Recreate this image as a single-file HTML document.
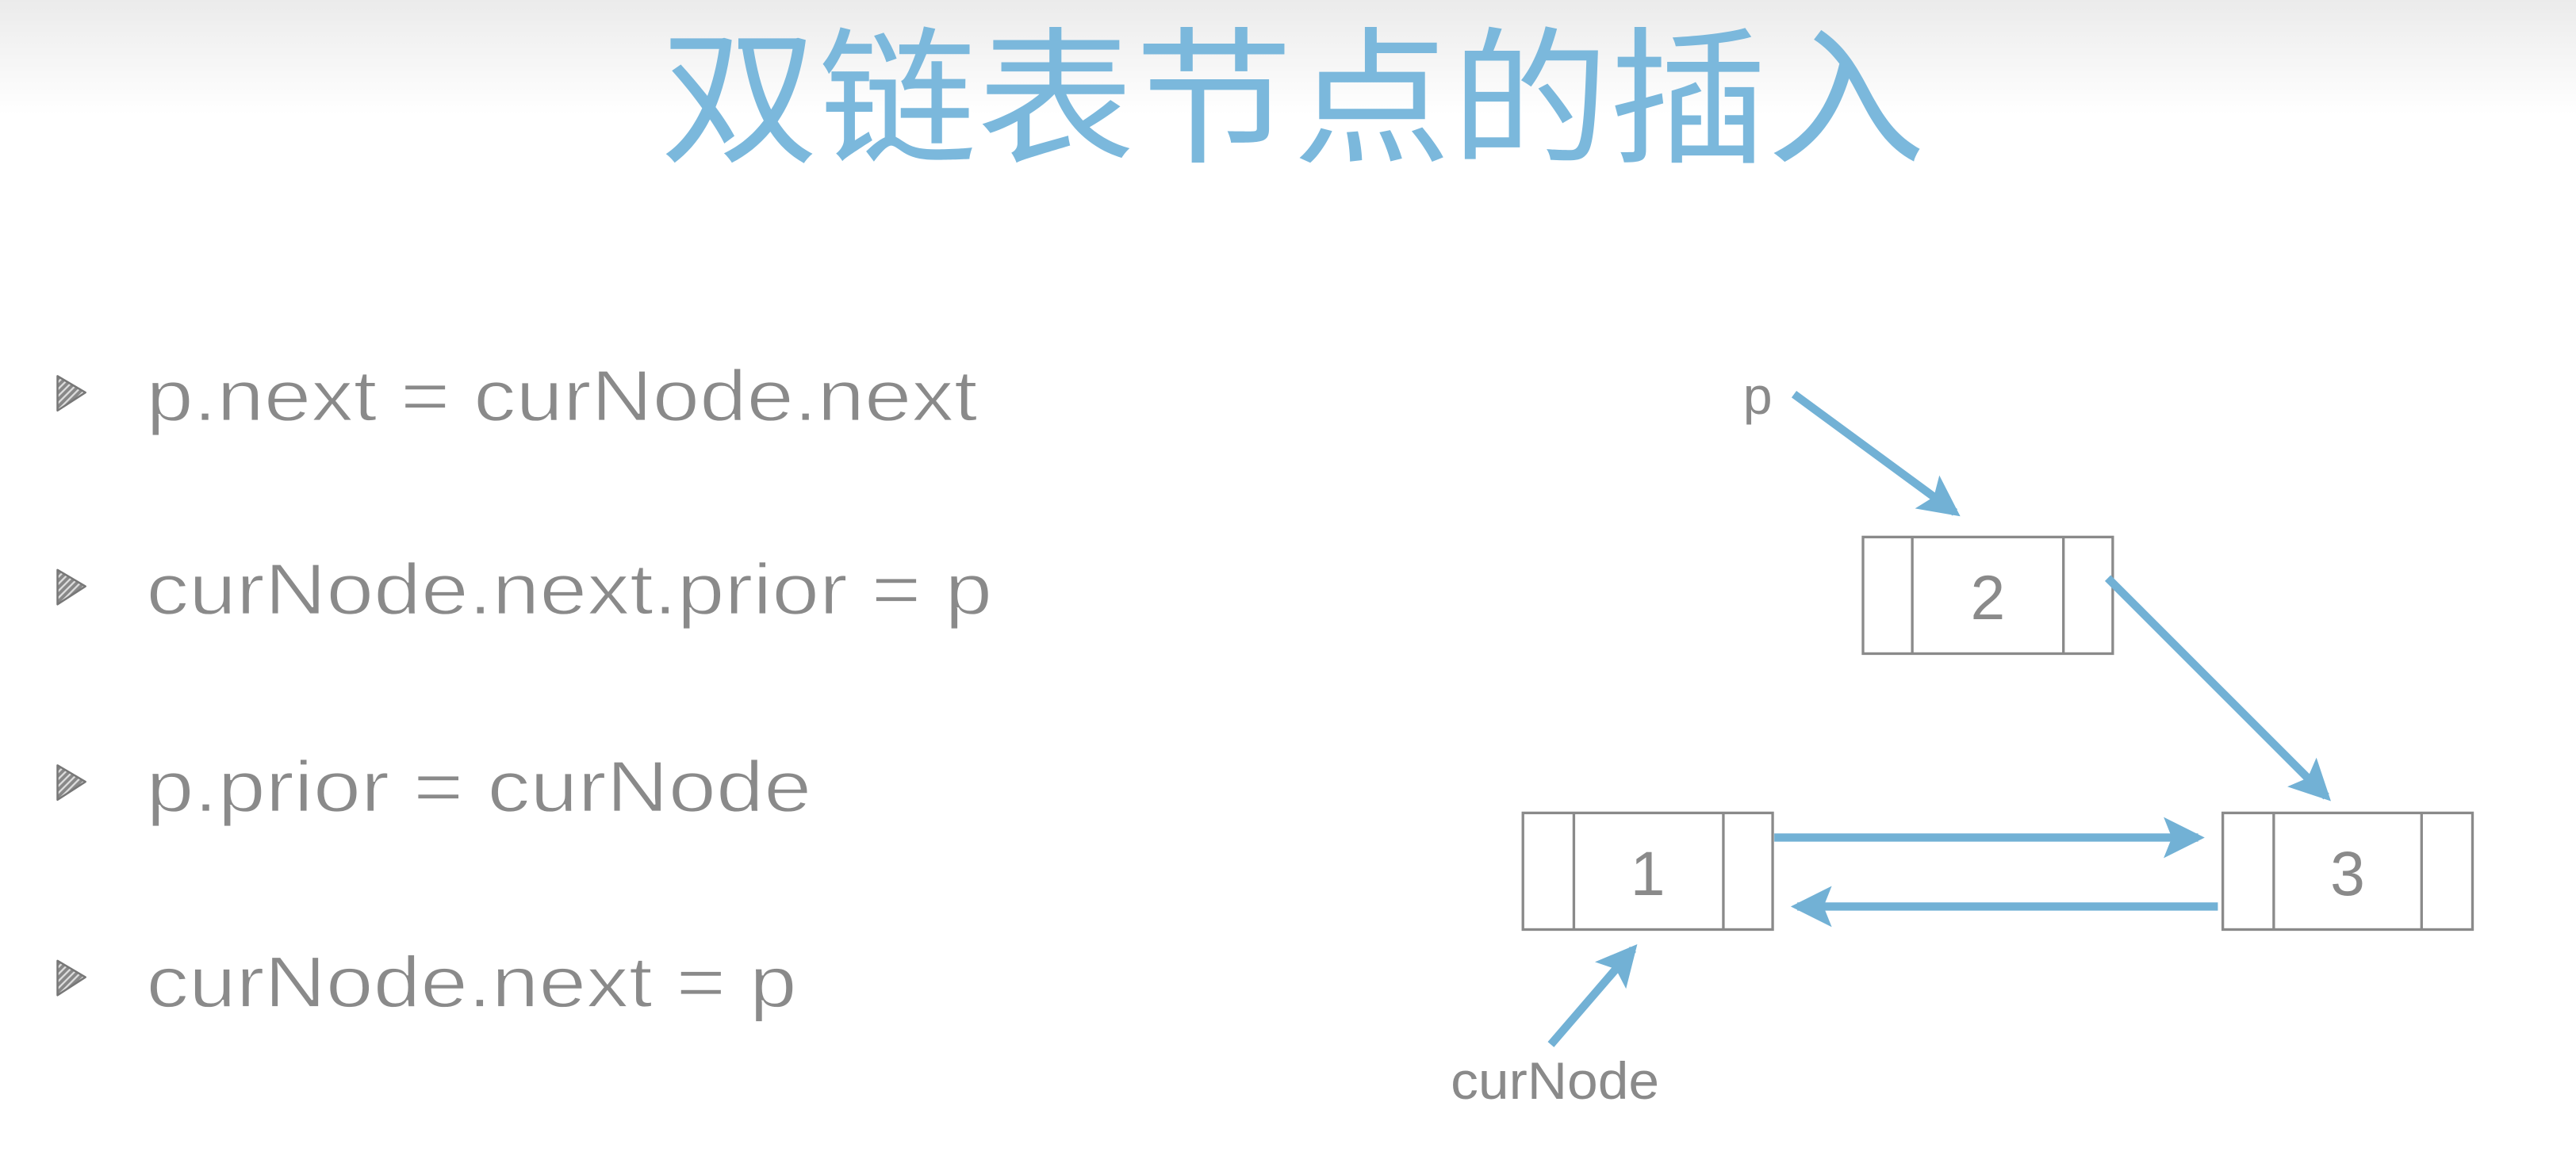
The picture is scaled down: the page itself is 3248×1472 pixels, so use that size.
<!DOCTYPE html>
<html><head><meta charset="utf-8"><style>
html,body{margin:0;padding:0;width:3248px;height:1472px;overflow:hidden;background:#fff}
svg{display:block}
</style></head><body>
<svg width="3248" height="1472" viewBox="0 0 1568 710.6" preserveAspectRatio="none" xmlns="http://www.w3.org/2000/svg">
<defs>
<linearGradient id="bg" x1="0" y1="0" x2="0" y2="1">
<stop offset="0" stop-color="#ebebeb"/><stop offset="1" stop-color="#ffffff"/>
</linearGradient>
<marker id="ah" markerWidth="5" markerHeight="5" refX="4.2" refY="2.5" orient="auto" markerUnits="strokeWidth">
<path d="M0,0 L5,2.5 L0,5 L1,2.5 Z" fill="#72b1d5"/>
</marker>
<pattern id="hatch" width="3" height="3" patternUnits="userSpaceOnUse" patternTransform="rotate(45)">
<rect width="3" height="3" fill="#888"/><rect width="1.1" height="3" fill="#ddd"/>
</pattern>
</defs>
<rect x="0" y="0" width="1568" height="70" fill="url(#bg)"/>
<text x="787" y="92" text-anchor="middle" font-family="'Liberation Sans','Noto Sans CJK SC',sans-serif" font-size="90" fill="#7bb8dc" textLength="770" lengthAdjust="spacingAndGlyphs">双链表节点的插入</text>

<g font-family="'Liberation Sans',sans-serif" font-size="44" fill="#8a8a8a" stroke="#fff" stroke-width="0.8">
<text x="89" y="256" textLength="506" lengthAdjust="spacingAndGlyphs">p.next = curNode.next</text>
<text x="89" y="374" textLength="515" lengthAdjust="spacingAndGlyphs">curNode.next.prior = p</text>
<text x="89" y="494" textLength="405" lengthAdjust="spacingAndGlyphs">p.prior = curNode</text>
<text x="89" y="613" textLength="396" lengthAdjust="spacingAndGlyphs">curNode.next = p</text>
</g>
<g fill="url(#hatch)" stroke="#777" stroke-width="1.2" stroke-linejoin="round">
<path d="M35,229 L52,239 L35,250 Z"/>
<path d="M35,347 L52,357 L35,368 Z"/>
<path d="M35,466 L52,476 L35,487 Z"/>
<path d="M35,585 L52,595 L35,606 Z"/>
</g>

<g fill="none" stroke="#8a8a8a" stroke-width="1.6">
<rect x="1134" y="327" width="152" height="71"/><line x1="1164" y1="327" x2="1164" y2="398"/><line x1="1256" y1="327" x2="1256" y2="398"/>
<rect x="927" y="495" width="152" height="71"/><line x1="958" y1="495" x2="958" y2="566"/><line x1="1049" y1="495" x2="1049" y2="566"/>
<rect x="1353" y="495" width="152" height="71"/><line x1="1384" y1="495" x2="1384" y2="566"/><line x1="1474" y1="495" x2="1474" y2="566"/>
</g>
<g font-family="'Liberation Sans',sans-serif" font-size="38" fill="#8a8a8a" text-anchor="middle">
<text x="1210" y="377">2</text>
<text x="1003" y="545">1</text>
<text x="1429" y="545">3</text>
</g>
<g font-family="'Liberation Sans',sans-serif" font-size="32" fill="#8a8a8a">
<text x="1061" y="252">p</text>
<text x="883" y="669" textLength="127" lengthAdjust="spacingAndGlyphs">curNode</text>
</g>

<g stroke="#72b1d5" stroke-width="5" fill="none" marker-end="url(#ah)">
<line x1="1092" y1="240" x2="1190" y2="312"/>
<line x1="1283" y1="352" x2="1416" y2="485"/>
<line x1="1080" y1="510" x2="1338" y2="510"/>
<line x1="1350" y1="552" x2="1094" y2="552"/>
<line x1="944" y1="636" x2="994" y2="578"/>
</g>
</svg>
</body></html>
